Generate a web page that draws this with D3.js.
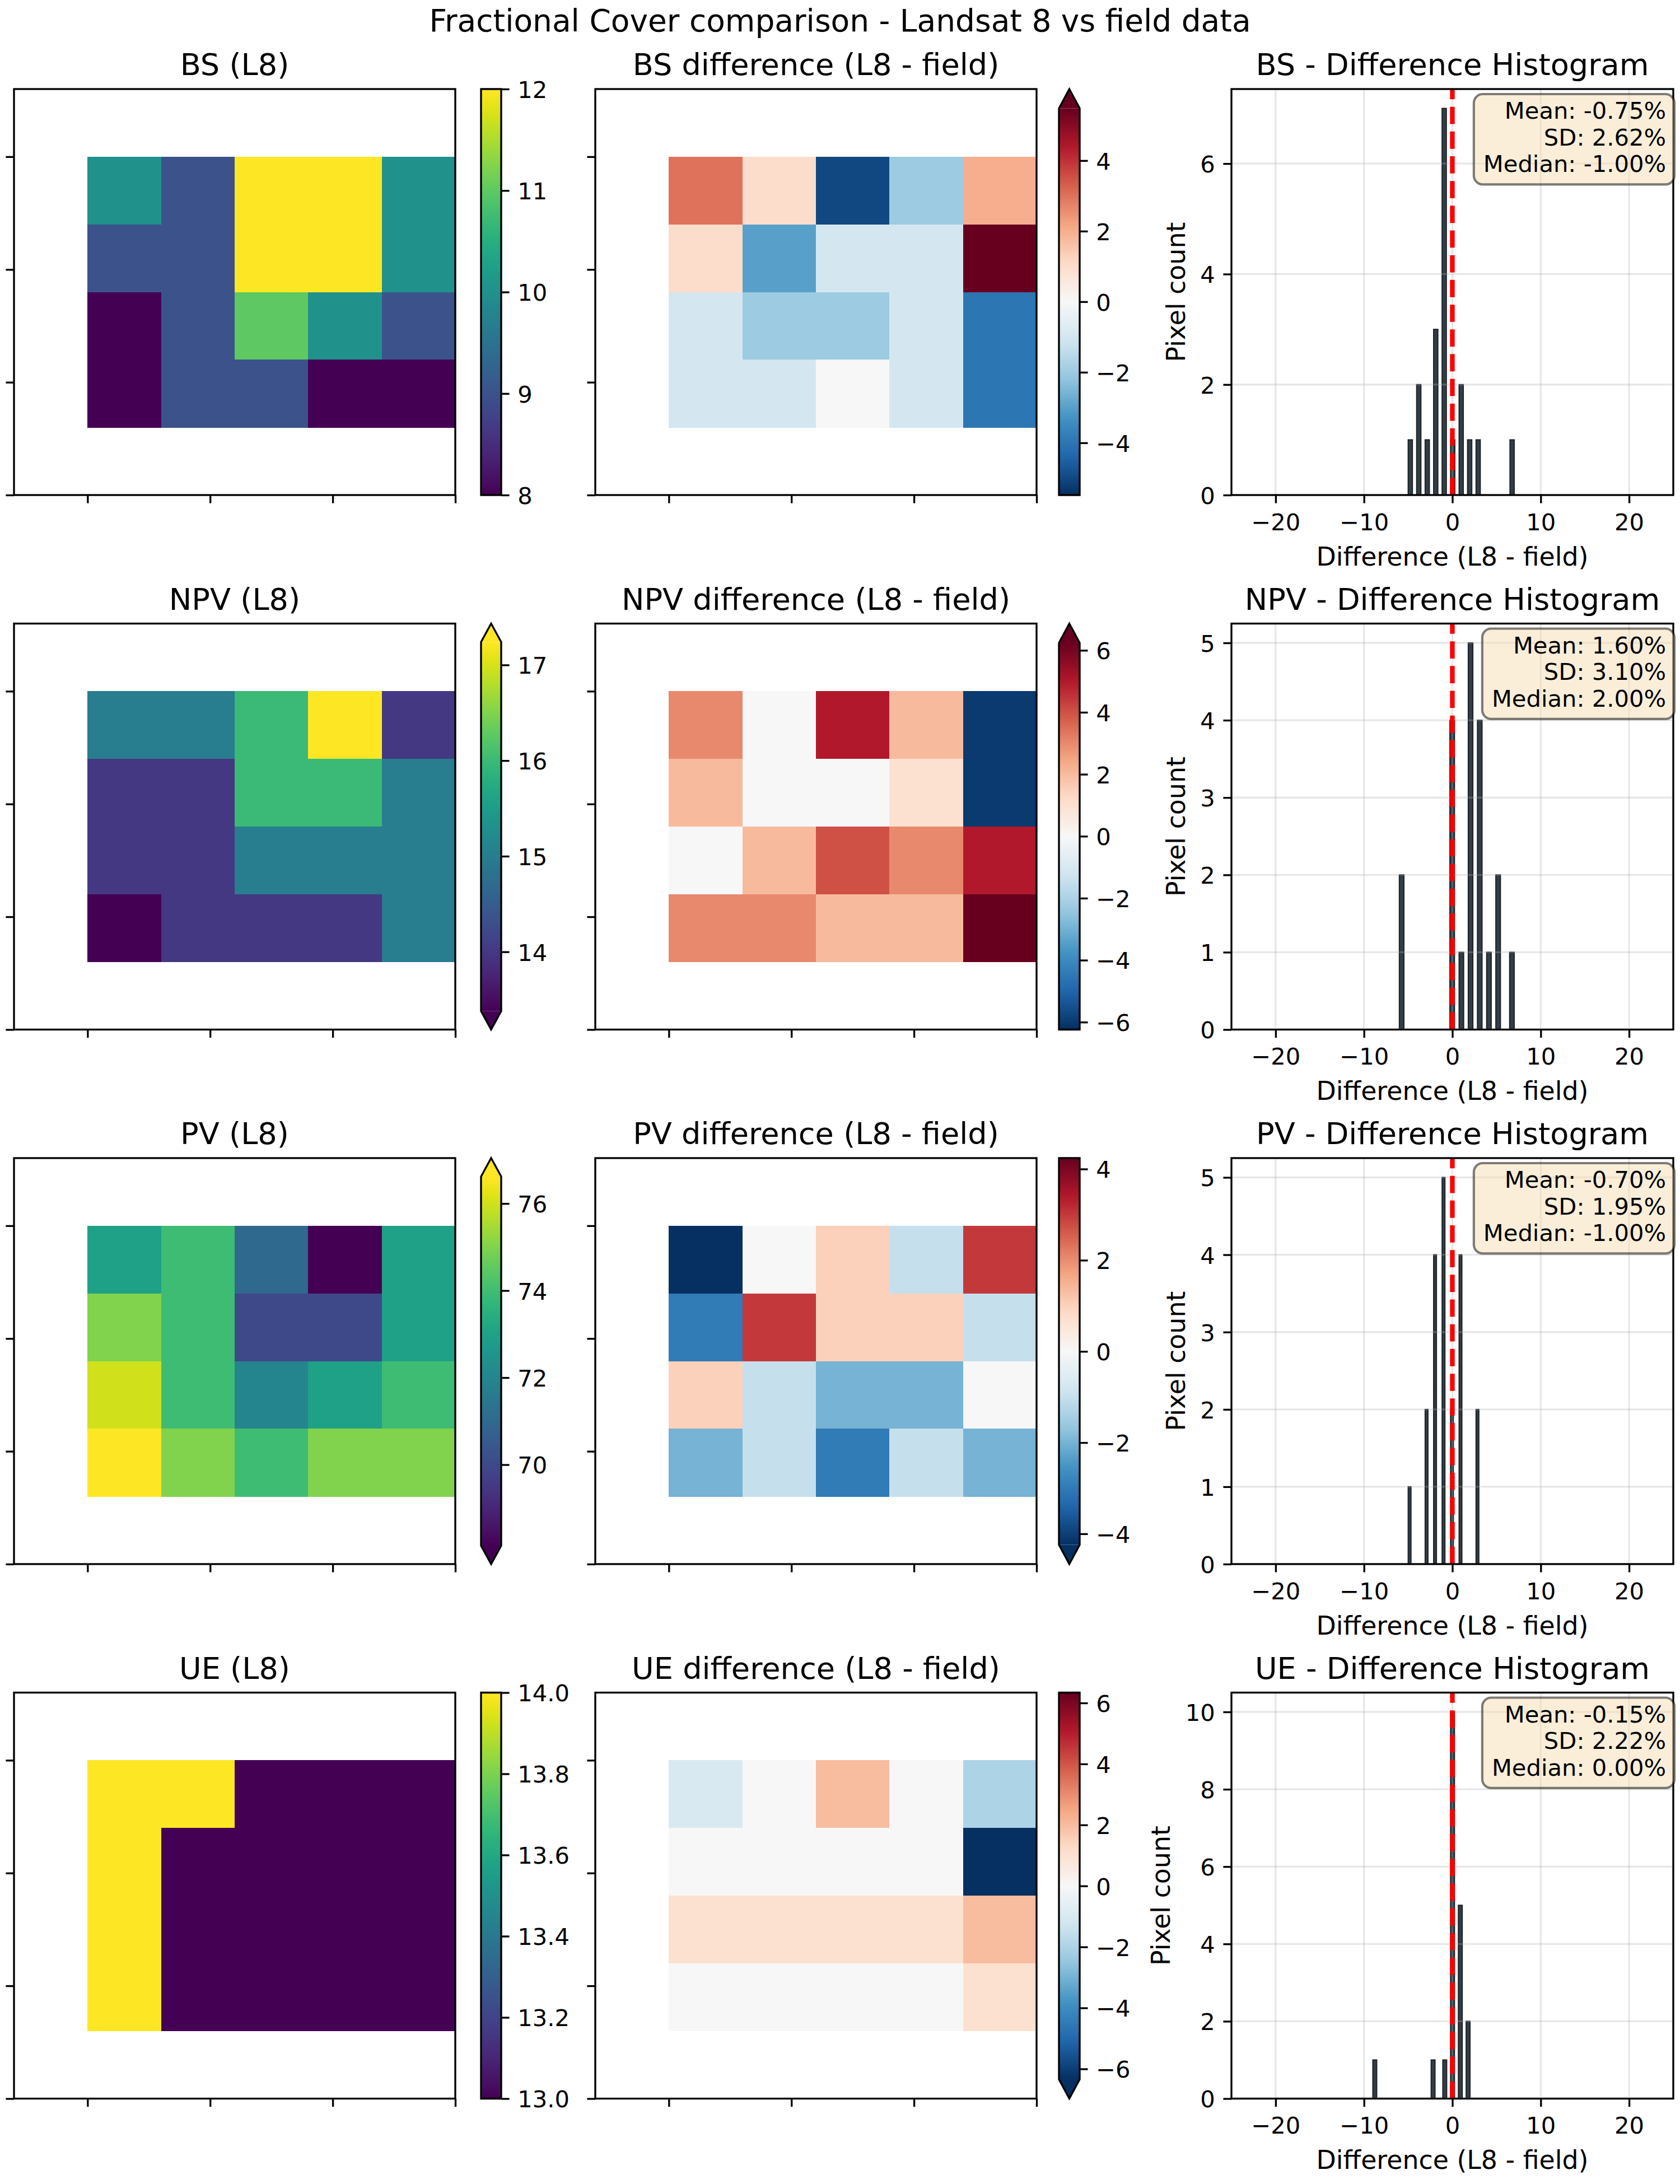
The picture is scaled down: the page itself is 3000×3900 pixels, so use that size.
<!DOCTYPE html>
<html>
<head>
<meta charset="utf-8">
<script src="https://cdn.jsdelivr.net/npm/d3@7"></script>
<style>
  body { margin: 0; background: #fff; }
</style>
</head>
<body>
<div id="chart"></div>
<script>
// fractional cover components, one row each
const components = ["BS", "NPV", "PV", "UE"];

// L8 values per cell (4 rows x 5 cols)
const bsL8 = [
  [10, 9, 12, 12, 10],
  [9, 9, 12, 12, 10],
  [8, 9, 11, 10, 9],
  [8, 9, 9, 8, 8]
];
const npvL8 = [
  [15, 15, 16, 18, 14],
  [14, 14, 16, 16, 15],
  [14, 14, 15, 15, 15],
  [13, 14, 14, 14, 15]
];
const pvL8 = [
  [73, 74, 71, 67, 73],
  [75, 74, 70, 70, 73],
  [76, 74, 72, 73, 74],
  [77, 75, 74, 75, 75]
];
const ueL8 = [
  [14, 14, 13, 13, 13],
  [14, 13, 13, 13, 13],
  [14, 13, 13, 13, 13],
  [14, 13, 13, 13, 13]
];

// L8 - field differences per cell
const bsDiff = [
  [3, 1, -5, -2, 2],
  [1, -3, -1, -1, 7],
  [-1, -2, -2, -1, -4],
  [-1, -1, 0, -1, -4]
];
const npvDiff = [
  [3, 0, 5, 2, -6],
  [2, 0, 0, 1, -6],
  [0, 2, 4, 3, 5],
  [3, 3, 2, 2, 7]
];
const pvDiff = [
  [-5, 0, 1, -1, 3],
  [-3, 3, 1, 1, -1],
  [1, -1, -2, -2, 0],
  [-2, -1, -3, -1, -2]
];
const ueDiff = [
  [-1, 0, 2, 0, -2],
  [0, 0, 0, 0, -9],
  [1, 1, 1, 1, 2],
  [0, 0, 0, 0, 1]
];

const l8Grids = [bsL8, npvL8, pvL8, ueL8];
const diffGrids = [bsDiff, npvDiff, pvDiff, ueDiff];

// tick labels
const l8Ticks = [[8, 9, 10, 11, 12], [14, 15, 16, 17], [70, 72, 74, 76], [13.0, 13.2, 13.4, 13.6, 13.8, 14.0]];
const diffTicks = [[-4, -2, 0, 2, 4], [-6, -4, -2, 0, 2, 4, 6], [-4, -2, 0, 2, 4], [-6, -4, -2, 0, 2, 4, 6]];
const histXTicks = [-20, -10, 0, 10, 20];
const histYTicks = [[0, 2, 4, 6], [0, 1, 2, 3, 4, 5], [0, 1, 2, 3, 4, 5], [0, 2, 4, 6, 8, 10]];
const mapTicks = [3, 8, 13, 18];
const histBins = 25;
const histRange = [-25, 25];

const W = 3000, H = 3900;
const PT = 300 / 72;
const FONT = "DejaVu Sans";
const TICK = 3.5 * PT, PAD = 3.5 * PT, LW = 0.8 * PT;
const FS_TICK = 10 * PT, FS_LABEL = 11 * PT, FS_TITLE = 13 * PT;

const viridis = d3.interpolateViridis;
// matplotlib RdBu_r, linear between the brewer colours
const rdbuR = d3.piecewise(d3.interpolateRgb, ["#053061", "#2166ac", "#4393c3", "#92c5de", "#d1e5f0",
  "#f7f7f7", "#fddbc7", "#f4a582", "#d6604d", "#b2182b", "#67001f"]);

const svg = d3.select("#chart").append("svg")
  .attr("width", W).attr("height", H)
  .attr("font-family", FONT);
svg.append("rect").attr("width", W).attr("height", H).attr("fill", "#fff");
const defs = svg.append("defs");

const rowTop = r => 159 + r * 954.5;
const axH = 725;
const col = {
  map: { x: 25, w: 788 }, cb1: { x: 859, w: 36 },
  diff: { x: 1063, w: 788 }, cb2: { x: 1891, w: 37 },
  hist: { x: 2199, w: 789 }
};

svg.append("text")
  .attr("x", W / 2).attr("y", 56)
  .attr("text-anchor", "middle")
  .attr("font-size", 13.2 * PT)
  .text("Fractional Cover comparison - Landsat 8 vs field data");

function styleAxis(a, fs) {
  a.attr("font-size", null).attr("font-family", null);
  a.select(".domain").remove();
  a.selectAll(".tick line").attr("stroke", "#000").attr("stroke-width", LW);
  a.selectAll(".tick text").attr("font-size", fs).attr("fill", "#000");
}

function limitsL8(grid) {
  const v = grid.flat().sort(d3.ascending);
  return [d3.quantileSorted(v, 0.02), d3.quantileSorted(v, 0.98)];
}
function limitsDiff(grid) {
  const v = grid.flat().sort(d3.ascending);
  const m = Math.max(Math.abs(d3.quantileSorted(v, 0.02)), Math.abs(d3.quantileSorted(v, 0.98)));
  return [-m, m];
}

function title(g, x0, w, y0, s) {
  g.append("text")
    .attr("x", x0 + w / 2).attr("y", y0 - 6 * PT)
    .attr("text-anchor", "middle")
    .attr("font-size", FS_TITLE)
    .text(s);
}

function drawMap(g, x0, y0, w, h, grid, color) {
  const x = d3.scaleLinear().domain([0, 18]).range([x0, x0 + w]);
  const y = d3.scaleLinear().domain([0, 18]).range([y0, y0 + h]);
  const cells = grid.flatMap((row, r) => row.map((v, c) => ({ r, c, v })));

  g.selectAll("rect.cell")
    .data(cells)
    .join("rect")
      .attr("class", "cell")
      .attr("x", d => x(3 + 3 * d.c))
      .attr("y", d => y(3 + 3 * d.r))
      .attr("width", x(3) - x(0) + 0.5)
      .attr("height", y(3) - y(0) + 0.5)
      .attr("fill", d => color(d.v))
      .attr("shape-rendering", "crispEdges");

  g.append("g")
    .attr("transform", `translate(0,${y0 + h})`)
    .call(d3.axisBottom(x).tickValues(mapTicks).tickFormat("").tickSize(TICK).tickSizeOuter(0))
    .call(a => styleAxis(a, FS_TICK));
  g.append("g")
    .attr("transform", `translate(${x0},0)`)
    .call(d3.axisLeft(y).tickValues(mapTicks).tickFormat("").tickSize(TICK).tickSizeOuter(0))
    .call(a => styleAxis(a, FS_TICK));

  g.append("rect")
    .attr("x", x0).attr("y", y0).attr("width", w).attr("height", h)
    .attr("fill", "none").attr("stroke", "#000").attr("stroke-width", LW);
}

let gradId = 0;
function drawColorbar(g, x0, y0, w, h, interp, lo, hi, extLow, extHigh, ticks, fmt) {
  const n = (extLow ? 1 : 0) + (extHigh ? 1 : 0);
  const L = h / (1 + 0.05 * n);
  const tri = 0.05 * L;
  const top = y0 + (extHigh ? tri : 0);
  const bot = top + L;
  const s = d3.scaleLinear().domain([lo, hi]).range([bot, top]);

  const id = "grad" + (gradId++);
  const grad = defs.append("linearGradient").attr("id", id)
    .attr("x1", 0).attr("y1", 1).attr("x2", 0).attr("y2", 0);
  d3.range(0, 65).forEach(i => grad.append("stop")
    .attr("offset", i / 64).attr("stop-color", interp(i / 64)));

  g.append("rect")
    .attr("x", x0).attr("y", top).attr("width", w).attr("height", L)
    .attr("fill", `url(#${id})`);
  if (extHigh) {
    g.append("path")
      .attr("d", `M${x0},${top}L${x0 + w / 2},${y0}L${x0 + w},${top}Z`)
      .attr("fill", interp(1));
  }
  if (extLow) {
    g.append("path")
      .attr("d", `M${x0},${bot}L${x0 + w / 2},${bot + tri}L${x0 + w},${bot}Z`)
      .attr("fill", interp(0));
  }
  const outline = d3.path();
  outline.moveTo(x0, top);
  if (extHigh) outline.lineTo(x0 + w / 2, y0);
  outline.lineTo(x0 + w, top);
  outline.lineTo(x0 + w, bot);
  if (extLow) outline.lineTo(x0 + w / 2, bot + tri);
  outline.lineTo(x0, bot);
  outline.closePath();
  g.append("path").attr("d", outline.toString())
    .attr("fill", "none").attr("stroke", "#000").attr("stroke-width", LW);

  g.append("g")
    .attr("transform", `translate(${x0 + w},0)`)
    .call(d3.axisRight(s).tickValues(ticks).tickFormat(fmt).tickSize(TICK).tickPadding(PAD))
    .call(a => styleAxis(a, FS_TICK))
    .call(a => a.selectAll(".tick text").attr("dy", "0.37em"));
}

function drawHist(g, x0, y0, w, h, grid, yTicks) {
  const values = grid.flat();
  const [mn, mx] = d3.extent(values);
  const step = (mx - mn) / histBins;
  const bins = d3.bin()
    .domain([mn, mx])
    .thresholds(d3.range(1, histBins).map(i => mn + i * step))(values);

  const x = d3.scaleLinear().domain(histRange).range([x0, x0 + w]);
  const y = d3.scaleLinear().domain([0, d3.max(bins, b => b.length) * 1.05]).range([y0 + h, y0]);

  g.selectAll("rect.bar")
    .data(bins.filter(b => b.length > 0))
    .join("rect")
      .attr("class", "bar")
      .attr("x", d => x(d.x0))
      .attr("y", d => y(d.length))
      .attr("width", d => x(d.x1) - x(d.x0))
      .attr("height", d => y(0) - y(d.length))
      .attr("fill", "#333d46")
      .attr("stroke", "#1c2228")
      .attr("stroke-width", 2);

  // grid
  g.selectAll("line.gx").data(histXTicks).join("line")
    .attr("class", "gx")
    .attr("x1", d => x(d)).attr("x2", d => x(d))
    .attr("y1", y0).attr("y2", y0 + h)
    .attr("stroke", "#b0b0b0").attr("stroke-opacity", 0.3).attr("stroke-width", LW);
  g.selectAll("line.gy").data(yTicks).join("line")
    .attr("class", "gy")
    .attr("x1", x0).attr("x2", x0 + w)
    .attr("y1", d => y(d)).attr("y2", d => y(d))
    .attr("stroke", "#b0b0b0").attr("stroke-opacity", 0.3).attr("stroke-width", LW);

  g.append("line")
    .attr("x1", x(0)).attr("x2", x(0))
    .attr("y1", y0 + h).attr("y2", y0)
    .attr("stroke", "red").attr("stroke-width", 2 * PT)
    .attr("stroke-dasharray", `${3.7 * 2 * PT} ${1.6 * 2 * PT}`);

  const xa = g.append("g")
    .attr("transform", `translate(0,${y0 + h})`)
    .call(d3.axisBottom(x).tickValues(histXTicks).tickFormat(d3.format("d")).tickSize(TICK).tickPadding(PAD))
    .call(a => styleAxis(a, FS_TICK))
    .call(a => a.selectAll(".tick text").attr("dy", "0.8em"));
  const ya = g.append("g")
    .attr("transform", `translate(${x0},0)`)
    .call(d3.axisLeft(y).tickValues(yTicks).tickFormat(d3.format("d")).tickSize(TICK).tickPadding(PAD))
    .call(a => styleAxis(a, FS_TICK))
    .call(a => a.selectAll(".tick text").attr("dy", "0.37em"));

  g.append("rect")
    .attr("x", x0).attr("y", y0).attr("width", w).attr("height", h)
    .attr("fill", "none").attr("stroke", "#000").attr("stroke-width", LW);

  const xb = xa.node().getBBox();
  g.append("text")
    .attr("x", x0 + w / 2)
    .attr("y", y0 + h + xb.height + 4 * PT + 0.8 * FS_LABEL)
    .attr("text-anchor", "middle")
    .attr("font-size", FS_LABEL)
    .text("Difference (L8 - field)");
  const yb = ya.node().getBBox();
  const lx = x0 + yb.x - 4 * PT - 0.236 * FS_LABEL;
  g.append("text")
    .attr("transform", `translate(${lx},${y0 + h / 2}) rotate(-90)`)
    .attr("text-anchor", "middle")
    .attr("font-size", FS_LABEL)
    .text("Pixel count");

  // stats box
  const mean = d3.mean(values);
  const sd = Math.sqrt(d3.mean(values, v => (v - mean) ** 2));
  const median = d3.median(values);
  const lines = [`Mean: ${mean.toFixed(2)}%`, `SD: ${sd.toFixed(2)}%`, `Median: ${median.toFixed(2)}%`];
  const fs = 10 * PT, lh = 47.7;
  const tx = x0 + w - 13, base = y0 + 53;
  const box = g.append("rect");
  const txt = g.append("text").attr("text-anchor", "end").attr("font-size", fs);
  lines.forEach((s, i) => txt.append("tspan").attr("x", tx).attr("y", base + i * lh).text(s));
  const bb = txt.node().getBBox();
  const bx = bb.x - 17, by = base - 44;
  box.attr("x", bx).attr("y", by)
    .attr("width", tx + 15 - bx)
    .attr("height", base + 2 * lh + 22 - by)
    .attr("rx", 16).attr("ry", 16)
    .attr("fill", "#f5deb3").attr("fill-opacity", 0.5)
    .attr("stroke", "#000").attr("stroke-opacity", 0.5).attr("stroke-width", 1 * PT);
}

components.forEach((name, r) => {
  const y0 = rowTop(r);

  // L8 map
  const gMap = svg.append("g");
  const l8 = l8Grids[r];
  const [lo, hi] = limitsL8(l8);
  const l8v = l8.flat();
  const cL8 = v => viridis(Math.max(0, Math.min(1, (v - lo) / (hi - lo))));
  drawMap(gMap, col.map.x, y0, col.map.w, axH, l8, cL8);
  title(gMap, col.map.x, col.map.w, y0, `${name} (L8)`);
  drawColorbar(gMap, col.cb1.x, y0, col.cb1.w, axH, viridis, lo, hi,
    d3.min(l8v) < lo, d3.max(l8v) > hi, l8Ticks[r], r === 3 ? d3.format(".1f") : d3.format("d"));

  // difference map
  const gDiff = svg.append("g");
  const df = diffGrids[r];
  const [dlo, dhi] = limitsDiff(df);
  const dv = df.flat();
  const cDiff = v => rdbuR(Math.max(0, Math.min(1, (v - dlo) / (dhi - dlo))));
  drawMap(gDiff, col.diff.x, y0, col.diff.w, axH, df, cDiff);
  title(gDiff, col.diff.x, col.diff.w, y0, `${name} difference (L8 - field)`);
  drawColorbar(gDiff, col.cb2.x, y0, col.cb2.w, axH, rdbuR, dlo, dhi,
    d3.min(dv) < dlo, d3.max(dv) > dhi, diffTicks[r], d3.format("d"));

  // histogram
  const gHist = svg.append("g");
  drawHist(gHist, col.hist.x, y0, col.hist.w, axH, df, histYTicks[r]);
  title(gHist, col.hist.x, col.hist.w, y0, `${name} - Difference Histogram`);
});
</script>
</body>
</html>
